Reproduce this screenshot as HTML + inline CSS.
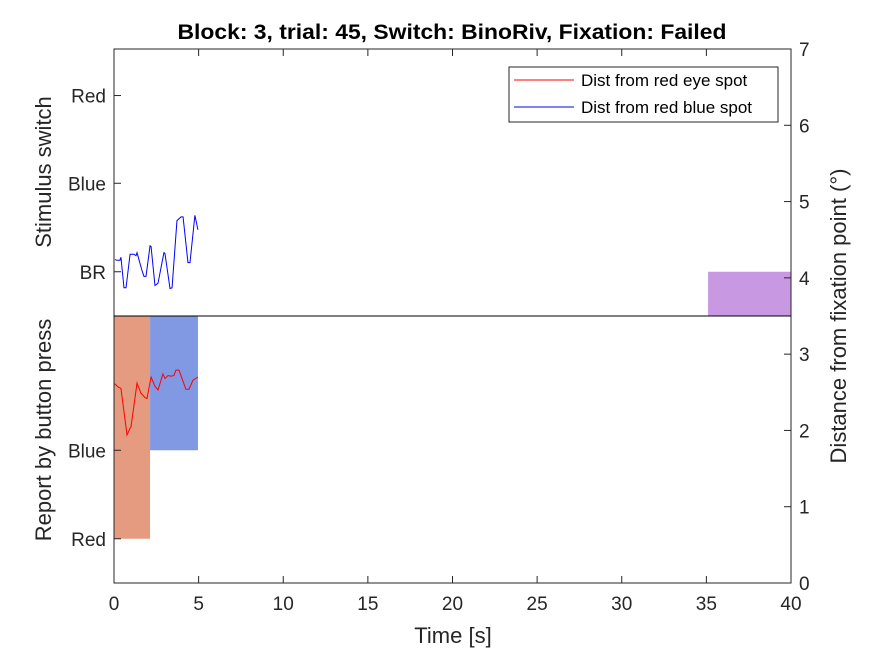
<!DOCTYPE html>
<html><head><meta charset="utf-8"><style>
body{margin:0;background:#fff;}
svg text{font-family:"Liberation Sans",Arial,sans-serif;fill:#262626;}
</style></head><body>
<svg id="c" width="875" height="656"></svg>
<script>
const tBlue=[0.06,0.18,0.35,0.41,0.59,0.71,0.95,1.18,1.30,1.36,1.65,1.77,1.89,2.13,2.19,2.42,2.60,2.95,3.01,3.31,3.43,3.72,3.96,4.08,4.37,4.49,4.78,4.96];
const vBlue=[4.24,4.23,4.23,4.27,3.87,3.87,4.31,4.31,4.29,4.33,4.10,4.02,4.02,4.42,4.41,3.90,3.93,4.33,4.32,3.86,3.87,4.75,4.80,4.80,4.20,4.20,4.82,4.63];
const tRed=[0,0.24,0.41,0.77,0.95,1.00,1.36,1.59,1.83,1.95,2.19,2.42,2.60,2.89,3.01,3.19,3.37,3.54,3.66,3.84,4.02,4.25,4.43,4.67,4.96];
const vRed=[2.62,2.57,2.55,1.94,2.03,2.04,2.62,2.49,2.43,2.42,2.70,2.58,2.53,2.74,2.68,2.72,2.71,2.72,2.79,2.79,2.68,2.54,2.54,2.66,2.70];
const xTicks=[0,5,10,15,20,25,30,35,40];
const yTicks=[0,1,2,3,4,5,6,7];
const leftLabels=["Red","Blue","BR","Blue","Red"];
const leftVals=[6.39,5.24,4.08,1.74,0.58];
const patchNames=["report-red-patch","report-blue-patch","switch-br-patch"];
const patchX0=[0,2.13,35.1], patchX1=[2.13,4.96,40];
const patchY0=[0.58,1.74,3.5], patchY1=[3.5,3.5,4.08];
const patchColors=["#e49b80","#8199e2","#c899e2"];

const L=114,R=791,T=49,B=583;
const X=t=>L+(t/40)*(R-L);
const Y=v=>B-(v/7)*(B-T);
const svg=document.getElementById('c');
const NS="http://www.w3.org/2000/svg";
function el(tag,a,txt){const e=document.createElementNS(NS,tag);for(const k in a)e.setAttribute(k,a[k]);if(txt!=null)e.textContent=txt;svg.appendChild(e);return e;}

for(let i=0;i<patchNames.length;i++){
 const e=el('rect',{x:X(patchX0[i]),y:Y(patchY1[i]),width:X(patchX1[i])-X(patchX0[i]),height:Y(patchY0[i])-Y(patchY1[i]),fill:patchColors[i]});
 
 
}
let e=el('rect',{x:L,y:T,width:R-L,height:B-T,fill:'none',stroke:'#262626','stroke-width':1});


e=el('line',{x1:L,x2:R,y1:Y(3.5),y2:Y(3.5),stroke:'#000','stroke-width':1});



e=el('polyline',{points:tRed.map((t,i)=>X(t)+','+Y(vRed[i])).join(' '),fill:'none',stroke:'#ff0000','stroke-width':1});


e=el('polyline',{points:tBlue.map((t,i)=>X(t)+','+Y(vBlue[i])).join(' '),fill:'none',stroke:'#0000ff','stroke-width':1});



xTicks.forEach(t=>{
 el('line',{x1:X(t),x2:X(t),y1:B,y2:B-7,stroke:'#262626'});
 el('line',{x1:X(t),x2:X(t),y1:T,y2:T+7,stroke:'#262626'});
 const tx=el('text',{x:X(t),y:B+27,'text-anchor':'middle','font-size':19},t);
 
 
});
yTicks.forEach(v=>{
 el('line',{x1:R,x2:R-7,y1:Y(v),y2:Y(v),stroke:'#262626'});
 const tx=el('text',{x:R+8,y:Y(v)+7,'font-size':19},v);
 
 
});
leftLabels.forEach((s,i)=>{
 el('line',{x1:L,x2:L+7,y1:Y(leftVals[i]),y2:Y(leftVals[i]),stroke:'#262626'});
 const tx=el('text',{x:L-8,y:Y(leftVals[i])+7,'text-anchor':'end','font-size':19},s);
 
 
});
e=el('text',{x:452,y:39,'text-anchor':'middle','font-size':21,'font-weight':'bold',textLength:549,lengthAdjust:'spacingAndGlyphs',style:'fill:#000'},'Block: 3, trial: 45, Switch: BinoRiv, Fixation: Failed');


e=el('text',{x:453,y:643,'text-anchor':'middle','font-size':22},'Time [s]');


e=el('text',{x:0,y:0,'text-anchor':'middle','font-size':22,transform:'translate(51,172) rotate(-90)'},'Stimulus switch');


e=el('text',{x:0,y:0,'text-anchor':'middle','font-size':22,transform:'translate(51,430) rotate(-90)'},'Report by button press');


e=el('text',{x:0,y:0,'text-anchor':'middle','font-size':22,transform:'translate(846,316) rotate(-90)'},'Distance from fixation point (°)');



e=el('rect',{x:509,y:67,width:269,height:55,fill:'#fff',stroke:'#262626'});


el('line',{x1:514,x2:574,y1:80,y2:80,stroke:'#ff0000'});
e=el('text',{x:581,y:86,'font-size':17,style:'fill:#000'},'Dist from red eye spot');


el('line',{x1:514,x2:574,y1:107,y2:107,stroke:'#0000ff'});
e=el('text',{x:581,y:113,'font-size':17,style:'fill:#000'},'Dist from red blue spot');


</script>
</body></html>
